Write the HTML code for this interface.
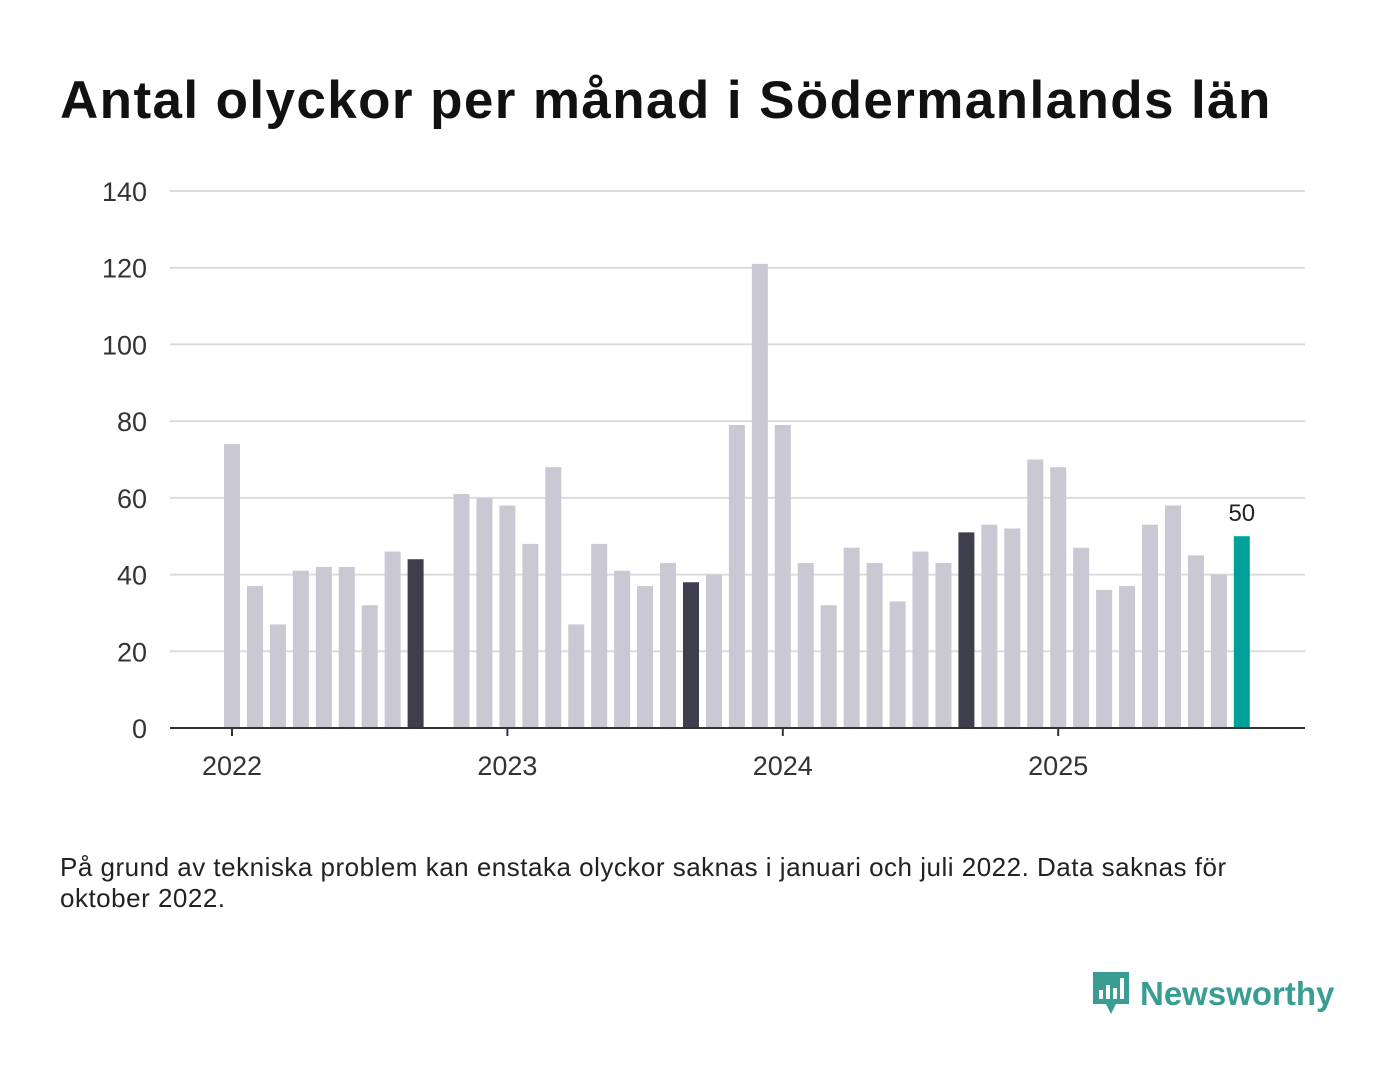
<!DOCTYPE html>
<html><head><meta charset="utf-8"><style>
body{margin:0;background:#fff;font-family:"Liberation Sans","DejaVu Sans",sans-serif;}
#wrap{position:relative;width:1400px;height:1080px;overflow:hidden}
h1{position:absolute;left:60px;top:70px;margin:0;font-size:53px;font-weight:bold;color:#111;letter-spacing:1.4px;white-space:nowrap}
#note{position:absolute;left:60px;top:852px;font-size:26px;color:#222;line-height:31px;width:1240px;letter-spacing:0.5px}
#logo{position:absolute;left:1090px;top:970px;display:flex;align-items:center}
#logo span{font-size:33px;font-weight:bold;color:#3a9d94;margin-left:8px}
</style></head><body><div id="wrap">
<h1>Antal olyckor per månad i Södermanlands län</h1>
<svg id="chart" width="1400" height="1080" style="position:absolute;left:0;top:0"></svg>
<div id="note">På grund av tekniska problem kan enstaka olyckor saknas i januari och juli 2022. Data saknas för oktober 2022.</div>
<div id="logo">
<svg width="42" height="48" viewBox="0 0 42 48"><path d="M3 2h36v32H26l-5 10-5-10H3z" fill="#3a9d94"/><rect x="9" y="20" width="4" height="9" fill="#fff"/><rect x="16" y="15" width="4" height="14" fill="#fff"/><rect x="23" y="18" width="4" height="11" fill="#fff"/><rect x="30" y="8" width="4" height="21" fill="#fff"/></svg>
<span>Newsworthy</span></div>
</div>
<script>
const values=[74,37,27,41,42,42,32,46,44,null,61,60,58,48,68,27,48,41,37,43,38,40,79,121,79,43,32,47,43,33,46,43,51,53,52,70,68,47,36,37,53,58,45,40,50];
const highlight=[8,20,32];
const yTicks=[0,20,40,60,80,100,120,140];
const yearLabels=["2022","2023","2024","2025"];
const yearIndex=[0,12,24,36];
const ns="http://www.w3.org/2000/svg";
const svg=document.getElementById('chart');
const y0=728,yTop=191,yMax=140,x0=232,step=22.95,bw=16;
const y=v=>y0-(v/yMax)*(y0-yTop);
const x=i=>x0+i*step;
function mk(t,a){const e=document.createElementNS(ns,t);for(const k in a)e.setAttribute(k,a[k]);svg.appendChild(e);return e;}
yTicks.forEach(t=>{
 if(t>0){const g=mk('line',{x1:170,x2:1305,y1:y(t),y2:y(t),stroke:'#dcdcdc','stroke-width':2});
 
 }
 const l=mk('text',{x:147,y:y(t)+10,'text-anchor':'end','font-size':27,fill:'#333'});l.textContent=t;
 
 
});
values.forEach((v,i)=>{
 if(v==null)return;
 let c='#c9c8d3';if(highlight.includes(i))c='#3f3e4d';if(i==values.length-1)c='#00a19a';
 const r=mk('rect',{x:x(i)-bw/2,y:y(v),width:bw,height:y0-y(v),fill:c});
 
 
});
const li=values.length-1;
const lab=mk('text',{x:x(li),y:y(values[li])-15,'text-anchor':'middle','font-size':24,fill:'#222'});lab.textContent=values[li];


const ax=mk('line',{x1:170,x2:1305,y1:y0,y2:y0,stroke:'#333','stroke-width':2});


yearLabels.forEach((yl,k)=>{
 const tk=mk('line',{x1:x(yearIndex[k]),x2:x(yearIndex[k]),y1:y0,y2:y0+8,stroke:'#333','stroke-width':2});
 
 
 const t=mk('text',{x:x(yearIndex[k]),y:y0+47,'text-anchor':'middle','font-size':27,fill:'#333'});t.textContent=yl;
 
 
});
</script></body></html>
